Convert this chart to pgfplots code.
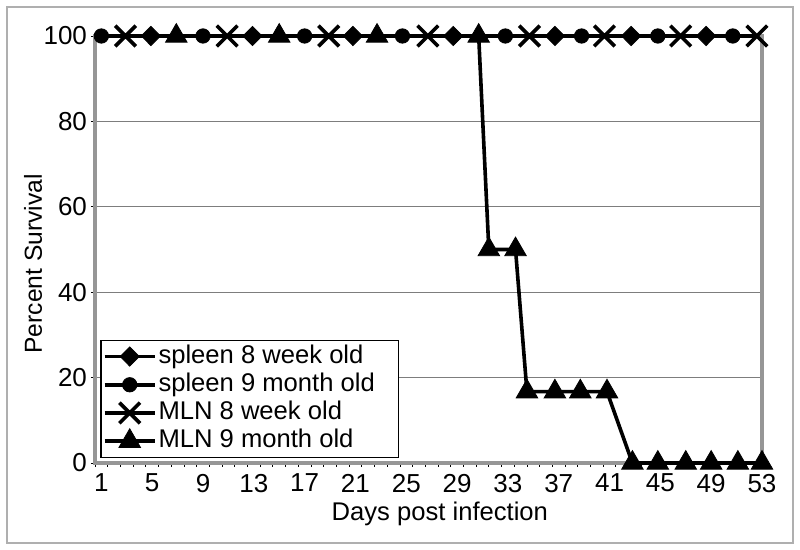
\documentclass[border=0pt]{standalone}
\usepackage{fontspec}
\setmainfont{Liberation Sans}
\usepackage{pgfplots}
\pgfplotsset{compat=1.18}
\definecolor{axgray}{RGB}{150,150,150}
\definecolor{gridgray}{RGB}{125,125,125}
\definecolor{framegray}{RGB}{175,175,175}
\newcommand{\chartfont}{\fontsize{12.8}{14}\selectfont}

\begin{document}
\begin{tikzpicture}
\useasboundingbox (-47.5pt,-43.5pt) rectangle (352.5pt,231.5pt);
\draw[framegray, line width=0.8pt] (-44pt,-40pt) rectangle (349pt,228pt);
\begin{axis}[
    at={(0pt,0pt)}, anchor=south west,
    scale only axis, width=333.5pt, height=213.5pt,
    xmin=0.5, xmax=53, ymin=0, ymax=100,
    xtick={1,5,...,53}, ytick={0,20,...,100},
    minor xtick={0.5,1.5,...,52.5},
    xtick pos=left, ytick pos=left,
    tick align=outside,
    major tick length=2pt, minor tick length=2pt,
    tick style={black, line width=0.4pt},
    major x tick style={draw=none},
    axis line style={axgray, line width=2pt},
    ymajorgrids=true,
    major grid style={gridgray, line width=0.5pt},
    /pgf/number format/assume math mode=true,
    tick label style={font=\fontsize{13}{14}\selectfont},
    yticklabel style={xshift=1.5pt},
    xlabel={Days post infection},
    ylabel={Percent Survival},
    xlabel style={font=\chartfont, at={(axis description cs:0.517,0)}, anchor=north, yshift=-16pt},
    ylabel style={font=\fontsize{12.3}{14}\selectfont, at={(axis description cs:-0.093,0.466)}, rotate=0, anchor=center},
    clip=false,
    legend style={at={(axis description cs:0.008,0.012)}, anchor=south west,
        draw=black, line width=0.6pt, fill=white, inner sep=1pt,
        font=\chartfont, row sep=0pt,
        nodes={inner sep=1pt, text height=9.3pt, text depth=2.8pt},
        cells={anchor=west}},
    legend image code/.code={
        \draw[mark repeat=2,mark phase=2] plot coordinates {(0pt,0pt)(12.5pt,0pt)(25pt,0pt)};},
]
% spleen 8 week old
\addplot[black, line width=1.8pt, mark=diamond*, mark size=4.8pt,
    mark options={solid, xscale=1.33, line width=0.4pt}] coordinates {
  (4.9,100) (12.9,100) (20.8,100) (28.7,100) (36.7,100) (42.7,100) (48.6,100)
};
% spleen 9 month old
\addplot[black, line width=1.8pt, mark=*, mark size=3.6pt,
    mark options={solid, line width=0.4pt}] coordinates {
  (1,100) (9,100) (17,100) (24.7,100) (32.8,100) (38.8,100) (44.8,100) (50.7,100)
};
% MLN 8 week old
\addplot[black, line width=1.8pt, mark=x, mark size=7.3pt,
    mark options={solid}] coordinates {
  (2.9,100) (10.9,100) (18.9,100) (26.7,100) (34.7,100) (40.6,100) (46.6,100) (52.6,100)
};
% MLN 9 month old
\addplot[black, line width=1.8pt, mark=triangle*, mark size=6.2pt,
    mark options={solid, line width=0.4pt}] coordinates {
  (6.9,100) (15,100) (22.7,100) (30.7,100) (31.5,50) (33.6,50)
  (34.5,16.7) (36.7,16.7) (38.7,16.7) (40.8,16.7)
  (42.8,0) (44.8,0) (47,0) (49,0) (51.1,0) (53,0)
};
\legend{spleen 8 week old, spleen 9 month old\rule{10pt}{0pt}, MLN 8 week old, MLN 9 month old}
\end{axis}
\end{tikzpicture}
\end{document}
